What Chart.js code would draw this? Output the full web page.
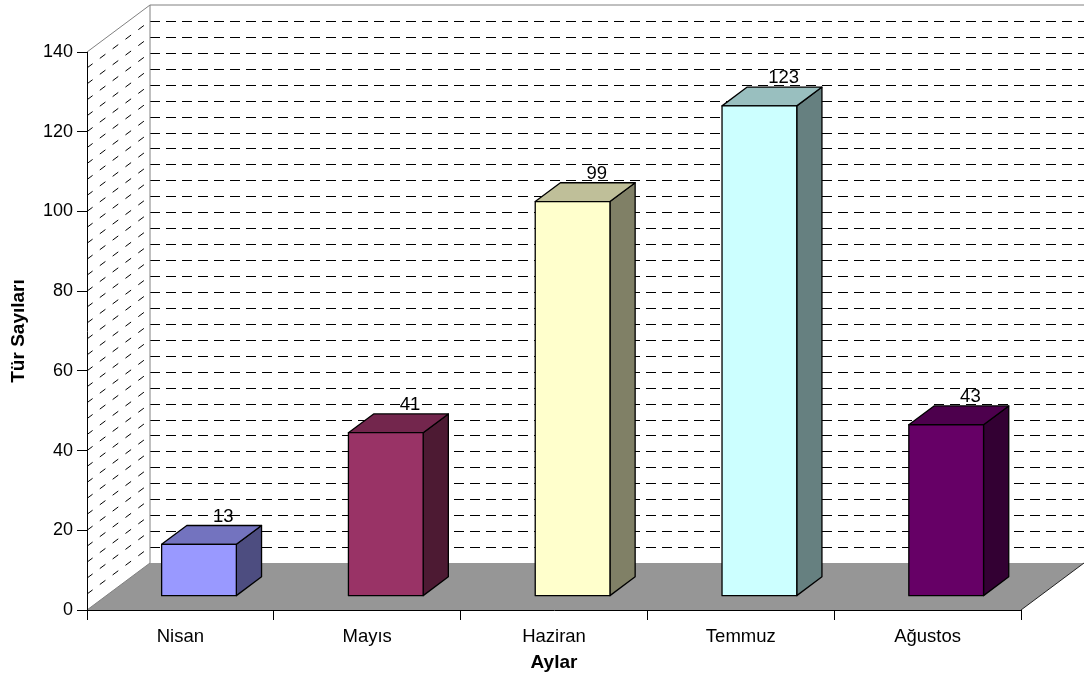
<!DOCTYPE html>
<html>
<head>
<meta charset="utf-8">
<script src="https://cdn.jsdelivr.net/npm/chart.js@4.4.1/dist/chart.umd.min.js"></script>
<style>
  html, body { margin: 0; padding: 0; background: #fff; }
  #wrap { width: 1084px; height: 677px; }
</style>
</head>
<body>
<div id="wrap"><canvas id="turChart" width="1084" height="677"></canvas></div>
<script>
// Data
const categories = ['Nisan', 'Mayıs', 'Haziran', 'Temmuz', 'Ağustos'];
const turSayilari = [13, 41, 99, 123, 43];
const yTicks = [0, 20, 40, 60, 80, 100, 120, 140];
const minorStep = 4;

// bar colours: front, top, side
const barColors = [
  ['#9999FF', '#7373BF', '#4D4D80'],
  ['#993366', '#73264D', '#4D1A33'],
  ['#FFFFCC', '#BFBF99', '#808066'],
  ['#CCFFFF', '#99BFBF', '#668080'],
  ['#660066', '#4D004D', '#330033']
];

const FONT = "'Liberation Sans', Arial, sans-serif";
const DX = 63, DY = -47;      // depth of the 3d box
const F1 = 0.295, F2 = 0.695; // front / back of the bars inside the depth

function poly(ctx, pts, fill, stroke) {
    ctx.beginPath();
    ctx.moveTo(pts[0][0], pts[0][1]);
    for (let i = 1; i < pts.length; i++) ctx.lineTo(pts[i][0], pts[i][1]);
    ctx.closePath();
    if (fill) { ctx.fillStyle = fill; ctx.fill(); }
    if (stroke) { ctx.strokeStyle = stroke; ctx.stroke(); }
}

// walls, floor and dashed gridlines
const walls3d = {
    id: 'walls3d',
    beforeDraw(chart) {
        const { ctx, chartArea: a } = chart;
        const ys = chart.scales.y;
        ctx.save();
        ctx.lineWidth = 1;
        // side wall + back wall
        poly(ctx, [[a.left, a.top], [a.left + DX, a.top + DY], [a.left + DX, a.bottom + DY], [a.left, a.bottom]], '#fff');
        poly(ctx, [[a.left + DX, a.top + DY], [a.right + DX, a.top + DY], [a.right + DX, a.bottom + DY], [a.left + DX, a.bottom + DY]], '#fff');

        // gridlines every minor step
        ctx.strokeStyle = '#000';
        for (let v = ys.min + minorStep; v < ys.max; v += minorStep) {
            const py = ys.getPixelForValue(v);
            const by = Math.round(py + DY) + 0.5;
            ctx.setLineDash([10, 6]);
            ctx.beginPath();
            ctx.moveTo(a.left + DX, by);
            ctx.lineTo(a.right + DX, by);
            ctx.stroke();
            ctx.setLineDash([7, 9]);
            ctx.beginPath();
            ctx.moveTo(a.left, py);
            ctx.lineTo(a.left + DX, py + DY);
            ctx.stroke();
        }
        ctx.setLineDash([]);

        // wall edges
        ctx.strokeStyle = '#808080';
        ctx.beginPath();
        ctx.moveTo(a.left, a.top);
        ctx.lineTo(a.left + DX, a.top + DY);
        ctx.lineTo(a.right + DX, a.top + DY);
        ctx.moveTo(a.left + DX, a.top + DY);
        ctx.lineTo(a.left + DX, a.bottom + DY);
        ctx.stroke();

        // floor
        poly(ctx, [[a.left, a.bottom], [a.left + DX, a.bottom + DY], [a.right + DX, a.bottom + DY], [a.right, a.bottom]], '#969696', null);
        ctx.strokeStyle = '#808080';
        ctx.beginPath();
        ctx.moveTo(a.left, a.bottom);
        ctx.lineTo(a.left + DX, a.bottom + DY);
        ctx.stroke();
        ctx.strokeStyle = '#222';
        ctx.beginPath();
        ctx.moveTo(a.right, a.bottom);
        ctx.lineTo(a.right + DX, a.bottom + DY);
        ctx.stroke();
        ctx.restore();
    }
};

// 3d bars built on the bar elements' geometry
const bars3d = {
    id: 'bars3d',
    beforeDatasetDraw(chart, args) {
        const { ctx } = chart;
        const meta = args.meta;
        const ox = DX * (F2 - F1), oy = DY * (F2 - F1);
        ctx.save();
        ctx.lineWidth = 1.3;
        ctx.lineJoin = 'round';
        meta.data.forEach((bar, i) => {
            const { x, y, base, width } = bar.getProps(['x', 'y', 'base', 'width'], true);
            const l = x - width / 2 + DX * F1, r = x + width / 2 + DX * F1;
            const t = y + DY * F1, b = base + DY * F1;
            const [front, top, side] = barColors[i];
            poly(ctx, [[r, t], [r + ox, t + oy], [r + ox, b + oy], [r, b]], side, '#000');
            poly(ctx, [[l, t], [l + ox, t + oy], [r + ox, t + oy], [r, t]], top, '#000');
            poly(ctx, [[l, t], [r, t], [r, b], [l, b]], front, '#000');

            ctx.fillStyle = '#000';
            ctx.font = '18.5px ' + FONT;
            ctx.textAlign = 'center';
            ctx.textBaseline = 'alphabetic';
            ctx.fillText(String(turSayilari[i]), (l + r) / 2 + ox - 1, t + oy - 4);
        });
        ctx.restore();
        return false;
    }
};

const ctx = document.getElementById('turChart').getContext('2d');
new Chart(ctx, {
    type: 'bar',
    data: {
        labels: categories,
        datasets: [{
            label: 'Tür Sayıları',
            data: turSayilari,
            backgroundColor: barColors.map(c => c[0]),
            categoryPercentage: 1,
            barPercentage: 0.4
        }]
    },
    options: {
        responsive: false,
        animation: false,
        layout: { padding: { top: 52, right: 63, left: 0, bottom: 0 } },
        plugins: {
            legend: { display: false },
            tooltip: { enabled: false }
        },
        scales: {
            x: {
                grid: { offset: true, drawOnChartArea: false, tickLength: 10, color: '#000' },
                border: { color: '#000', width: 1 },
                ticks: { color: '#000', font: { family: FONT, size: 18.5 }, padding: 6 },
                title: {
                    display: true, text: 'Aylar', color: '#000',
                    font: { family: FONT, size: 19, weight: 'bold' },
                    padding: { top: 0, bottom: 2.5 }
                },
                afterFit: s => { s.height = 67; }
            },
            y: {
                min: yTicks[0],
                max: yTicks[yTicks.length - 1],
                grid: { drawOnChartArea: false, tickLength: 10, color: '#000' },
                border: { color: '#000', width: 1 },
                ticks: {
                    stepSize: yTicks[1] - yTicks[0],
                    color: '#000',
                    font: { family: FONT, size: 18 },
                    padding: 4
                },
                title: {
                    display: true, text: 'Tür Sayıları', color: '#000',
                    font: { family: FONT, size: 19, weight: 'bold' },
                    padding: { top: 7, bottom: 0 }
                },
                afterFit: s => { s.width = 87; }
            }
        }
    },
    plugins: [walls3d, bars3d]
});
</script>
</body>
</html>
